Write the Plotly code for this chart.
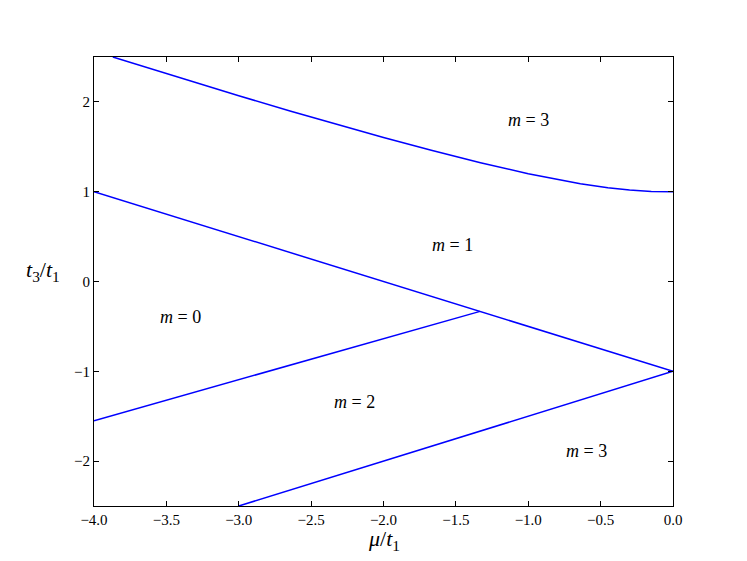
import plotly.graph_objects as go

# phase boundaries
mu_top = [-3.87, -3.6, -3.33, -3.0, -2.64, -2.3, -2.0, -1.67, -1.33, -1.0, -0.8, -0.64,
          -0.45, -0.3, -0.15, 0.0]
t3_top = [2.50, 2.365, 2.231, 2.069, 1.896, 1.738, 1.603, 1.461, 1.323, 1.201, 1.135, 1.089,
          1.043, 1.018, 1.003, 1.00]

mu_mid = [-4.0, 0.0]
t3_mid = [1.0, -1.0]

mu_low = [-4.0, -1.333]
t3_low = [-1.55, -0.333]

mu_bot = [-3.0, 0.0]
t3_bot = [-2.5, -1.0]

# region labels
label_text = ["m = 3", "m = 1", "m = 0", "m = 2", "m = 3"]
label_mu = [-1.0, -1.52, -3.4, -2.2, -0.6]
label_t3 = [1.80, 0.41, -0.39, -1.34, -1.89]

x_ticks = [-4.0, -3.5, -3.0, -2.5, -2.0, -1.5, -1.0, -0.5, 0.0]
y_ticks = [-2, -1, 0, 1, 2]

FONT = "Liberation Serif"
BLUE = "#0000ff"

fig = go.Figure()
for xs, ys in [(mu_top, t3_top), (mu_mid, t3_mid), (mu_low, t3_low), (mu_bot, t3_bot)]:
    fig.add_trace(go.Scatter(x=xs, y=ys, mode="lines",
                             line=dict(color=BLUE, width=1.5), showlegend=False))

for txt, x, y in zip(label_text, label_mu, label_t3):
    m, rest = txt.split(" ", 1)
    fig.add_annotation(x=x, y=y, text="<i>" + m + "</i>&nbsp;" + rest.replace(" ", "&nbsp;"),
                       showarrow=False, xanchor="center", yanchor="middle",
                       font=dict(family=FONT, size=18, color="black"))

# axis labels
fig.add_annotation(xref="paper", yref="y", x=-0.088, y=0.12, xanchor="center", yanchor="middle",
                   text="<i>t</i><sub>3</sub>/<i>t</i><sub>1</sub>", showarrow=False,
                   font=dict(family=FONT, size=22, color="black"))
fig.add_annotation(xref="x", yref="paper", x=-2.0, y=-0.076, xanchor="center", yanchor="middle",
                   text="<i>μ</i>/<i>t</i><sub>1</sub>", showarrow=False,
                   font=dict(family=FONT, size=22, color="black"))

axis_common = dict(showline=True, linecolor="black", linewidth=1, mirror="ticks",
                   ticks="inside", ticklen=5, tickcolor="black", tickwidth=1,
                   showgrid=False, zeroline=False,
                   tickfont=dict(family=FONT, size=15, color="black"))

fig.update_xaxes(range=[-4, 0], tickvals=x_ticks, tickformat=".1f", **axis_common)
fig.update_yaxes(range=[-2.5, 2.5], tickvals=y_ticks, **axis_common)

fig.update_layout(width=747, height=561, plot_bgcolor="white", paper_bgcolor="white",
                  margin=dict(l=86, r=82, t=49, b=63),
                  font=dict(family=FONT))

fig.write_html("out.html")
